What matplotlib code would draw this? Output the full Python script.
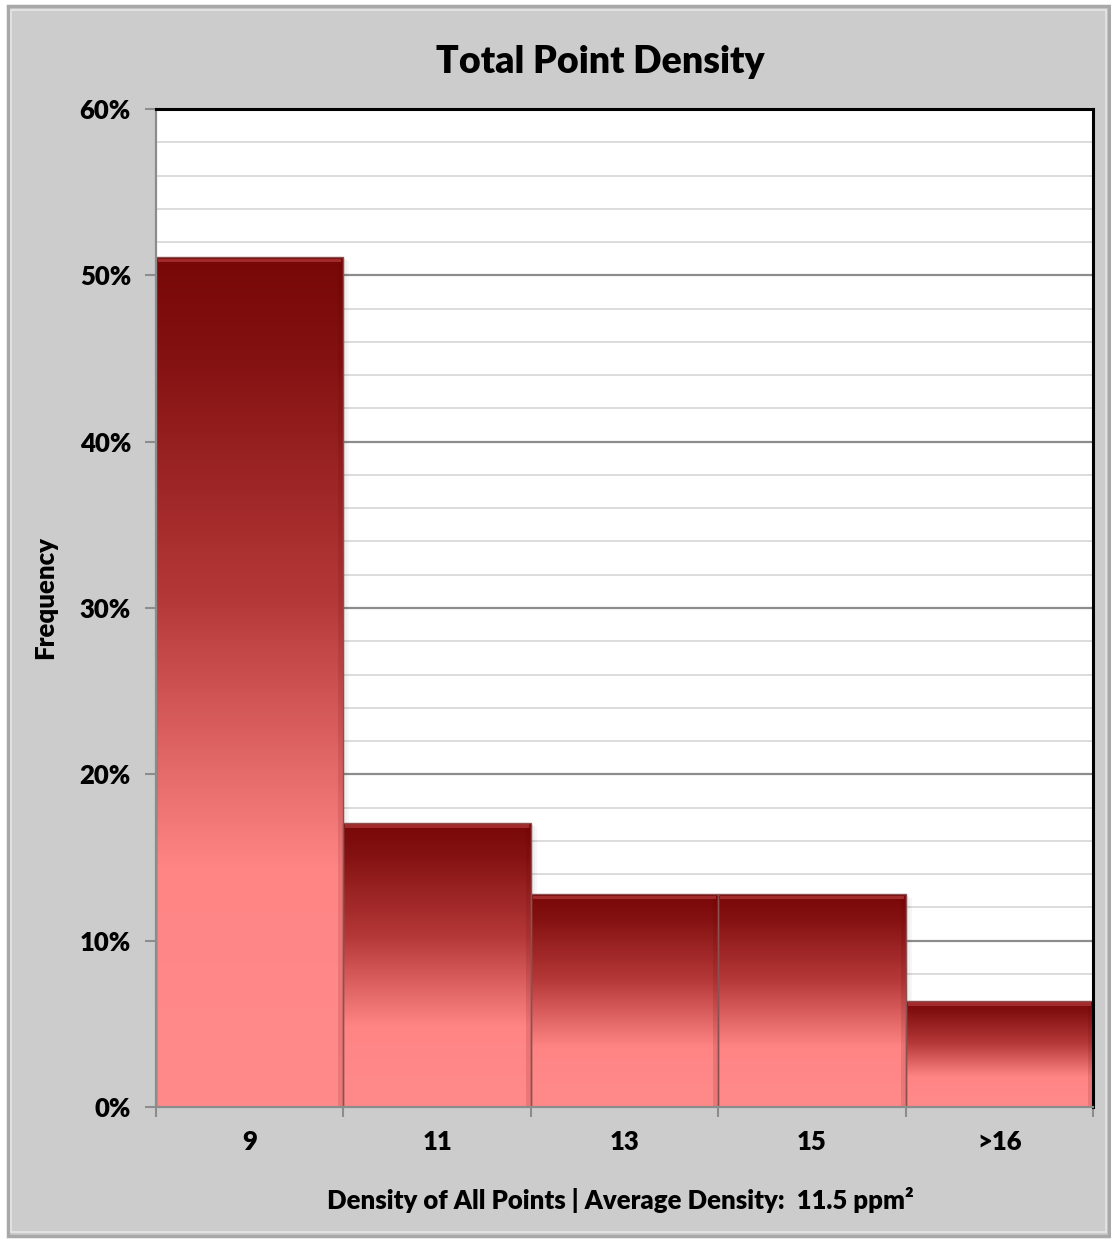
import numpy as np
import matplotlib
matplotlib.use("Agg")
import matplotlib.pyplot as plt
from matplotlib.patches import Rectangle
from matplotlib.colors import LinearSegmentedColormap
from matplotlib.ticker import MultipleLocator, PercentFormatter

# Histogram data
categories = ["9", "11", "13", "15", ">16"]
frequency = [51.1, 17.1, 12.8, 12.8, 6.4]  # percent

title = "Total Point Density"
xlabel = "Density of All Points | Average Density:  11.5 ppm²"
ylabel = "Frequency"

WEIGHT = "heavy"
plt.rcParams["font.family"] = ["Lato", "DejaVu Sans"]
plt.rcParams["font.weight"] = WEIGHT

W, H = 1111, 1240
fig = plt.figure(figsize=(W / 100, H / 100), dpi=100, facecolor="white")

# Chart-area panel with a soft grey border
panel = Rectangle((8 / W, 4 / H), (1109 - 8) / W, (1234 - 4) / H,
                  transform=fig.transFigure, facecolor="#CCCCCC",
                  edgecolor="#A8A8A8", linewidth=2.5, zorder=-2)
fig.patches.append(panel)
hl = Rectangle((11 / W, 8 / H), (1106 - 11) / W, (1230 - 8) / H,
               transform=fig.transFigure, facecolor="none",
               edgecolor="#E6E6E6", linewidth=1.2, zorder=-1)
fig.patches.append(hl)

left, right, top, bottom = 156, 1093, 109, 1107
ax = fig.add_axes([left / W, 1 - bottom / H, (right - left) / W, (bottom - top) / H])
ax.set_zorder(3)
ax.set_facecolor("white")

n = len(categories)
ax.set_xlim(0, n)
ax.set_ylim(0, 60)

# Gridlines: light every 2%, darker every 10%
ax.yaxis.set_major_locator(MultipleLocator(10))
ax.yaxis.set_minor_locator(MultipleLocator(2))
ax.yaxis.set_major_formatter(PercentFormatter(decimals=0))
ax.grid(which="minor", axis="y", color="#D9D9D9", linewidth=1.3, zorder=0)
ax.grid(which="major", axis="y", color="#8C8C8C", linewidth=1.6, zorder=0.1)
ax.set_axisbelow(True)

# Gradient for the bars: dark red at the top fading to pink
cmap = LinearSegmentedColormap.from_list(
    "redfade",
    [(0.0, "#780707"), (0.12, "#851212"), (0.4, "#B53838"),
     (0.72, "#FF8585"), (1.0, "#FF8A8A")])
grad = np.linspace(0, 1, 256).reshape(-1, 1)

dy = 60 / (bottom - top)
dx = n / (right - left)
for i, v in enumerate(frequency):
    x0 = i
    # soft drop shadow on the right
    for k, a in enumerate([0.10, 0.06, 0.03]):
        sh = Rectangle((x0 + 1 + k * 2 * dx, 0), 2 * dx, v - 2 * dy - k * dy,
                       facecolor="black", alpha=a, linewidth=0, zorder=1)
        ax.add_patch(sh)
    bar = Rectangle((x0, 0), 1, v, facecolor="none", edgecolor="none", zorder=2)
    ax.add_patch(bar)
    im = ax.imshow(grad, cmap=cmap, aspect="auto", extent=(x0, x0 + 1, 0, v),
                   origin="upper", zorder=2, interpolation="bilinear")
    im.set_clip_path(bar)
    # bevel highlights along the top and sides
    ax.add_patch(Rectangle((x0 + 2 * dx, v - 5 * dy), 1 - 4 * dx, 3.5 * dy,
                           facecolor="#C44848", alpha=0.55, linewidth=0, zorder=2.5))
    ax.add_patch(Rectangle((x0, v - 1.2 * dy), 1, 1.2 * dy,
                           facecolor="#8A1616", linewidth=0, zorder=2.6))
    ax.add_patch(Rectangle((x0 + 1 - 5 * dx, 0), 5 * dx, v - 5 * dy,
                           facecolor="#5A0000", alpha=0.12, linewidth=0, zorder=2.5))
    ax.add_patch(Rectangle((x0, 0), 1, v, facecolor="none",
                           edgecolor="#8C5050", linewidth=1.0, zorder=3))

# Spines
for s in ("top", "right"):
    ax.spines[s].set_color("black")
    ax.spines[s].set_linewidth(2.2)
for s in ("left", "bottom"):
    ax.spines[s].set_color("#8C8C8C")
    ax.spines[s].set_linewidth(1.6)
for s in ax.spines.values():
    s.set_zorder(5)

# Ticks
ax.tick_params(axis="y", which="major", direction="out", length=8, width=1.5,
               color="#8C8C8C", labelsize=18.5, pad=10, labelcolor="black")
ax.tick_params(axis="y", which="minor", length=0)
ax.set_xticks(np.arange(n + 1))
ax.set_xticklabels([])
ax.tick_params(axis="x", which="major", direction="out", length=7, width=1.5,
               color="#8C8C8C")
for i, c in enumerate(categories):
    ax.text(i + 0.5, -1.4, c, ha="center", va="top", fontsize=18.5,
            fontweight=WEIGHT, transform=ax.transData, clip_on=False)
for lab in ax.get_yticklabels():
    lab.set_fontweight(WEIGHT)

fig.text(600 / W, 1 - 62 / H, title, ha="center", va="center",
         fontsize=27, fontweight=WEIGHT)
fig.text(620 / W, 1 - 1200 / H, xlabel, ha="center", va="center",
         fontsize=18.5, fontweight=WEIGHT)
fig.text(45 / W, 1 - 598 / H, ylabel, ha="center", va="center", rotation=90,
         fontsize=18.5, fontweight=WEIGHT)

fig.savefig("out.png", dpi=100, facecolor=fig.get_facecolor())
